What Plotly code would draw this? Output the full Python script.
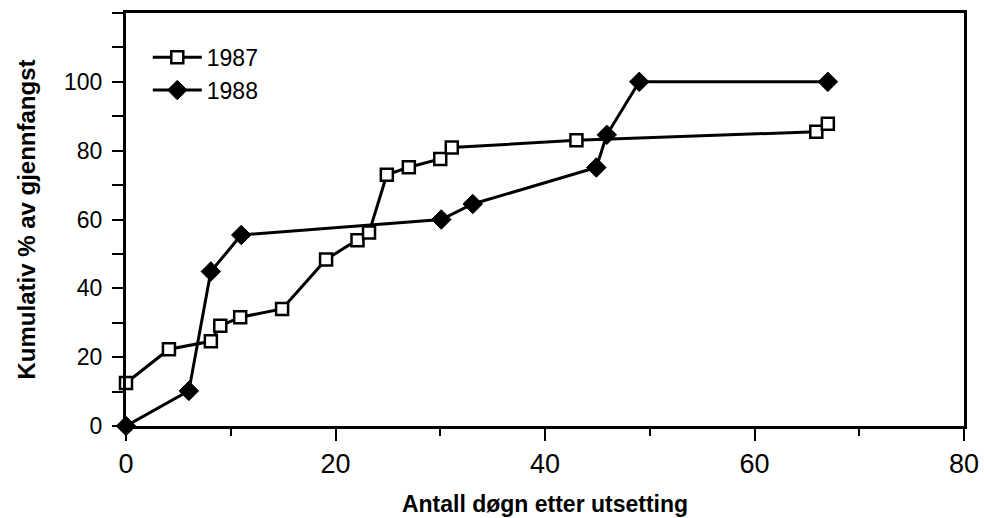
import plotly.graph_objects as go

# 1987 series (open squares)
days_1987 = [0, 4.1, 8.1, 9.0, 10.9, 14.9, 19.1, 22.1, 23.2, 24.9, 27.0, 30.0, 31.1, 43.0, 65.9, 67.0]
pct_1987 = [12.5, 22.3, 24.6, 29.1, 31.6, 34.0, 48.4, 54.0, 56.2, 73.0, 75.2, 77.6, 80.9, 83.0, 85.5, 87.8]

# 1988 series (filled diamonds)
days_1988 = [0, 6.0, 8.1, 11.0, 30.1, 33.1, 44.9, 45.9, 49.0, 67.0]
pct_1988 = [0, 10.2, 44.9, 55.5, 60.0, 64.5, 75.1, 84.6, 100.0, 100.0]

x_tickvals = [0, 20, 40, 60, 80]
y_tickvals = [0, 20, 40, 60, 80, 100]

FONT = "Liberation Sans, Arial, Helvetica, sans-serif"

fig = go.Figure()
fig.add_trace(go.Scatter(
    x=days_1987, y=pct_1987, name="1987", mode="lines+markers",
    line=dict(color="black", width=3),
    marker=dict(symbol="square", size=12, color="white", line=dict(color="black", width=2.5)),
    cliponaxis=False,
))
fig.add_trace(go.Scatter(
    x=days_1988, y=pct_1988, name="1988", mode="lines+markers",
    line=dict(color="black", width=3),
    marker=dict(symbol="diamond", size=15, color="black", line=dict(color="black", width=1)),
    cliponaxis=False,
))

fig.update_layout(
    width=984, height=518,
    margin=dict(l=126, r=20, t=13, b=92),
    paper_bgcolor="white", plot_bgcolor="white",
    font=dict(family=FONT, size=22, color="black"),
    showlegend=True,
    legend=dict(x=0.026, y=0.945, xanchor="left", yanchor="top",
                bgcolor="rgba(0,0,0,0)", font=dict(size=23, family=FONT),
                itemwidth=49),
    xaxis=dict(
        range=[0, 80], tickvals=x_tickvals, ticks="outside", ticklen=12, tickwidth=2,
        tickcolor="black", showgrid=False, zeroline=False, automargin=False,
        showline=True, linecolor="black", linewidth=3, mirror=True,
        minor=dict(dtick=10, ticks="outside", ticklen=7, tickwidth=2, tickcolor="black"),
        tickfont=dict(size=27, family=FONT), ticklabelstandoff=0,
        title=dict(text="<b>Antall døgn etter utsetting</b>", font=dict(size=23, family=FONT), standoff=18),
    ),
    yaxis=dict(
        range=[0, 120], tickvals=y_tickvals, ticks="outside", ticklen=11, tickwidth=2,
        tickcolor="black", showgrid=False, zeroline=False, automargin=False,
        showline=True, linecolor="black", linewidth=3, mirror=True,
        minor=dict(dtick=10, ticks="outside", ticklen=11, tickwidth=2, tickcolor="black"),
        tickfont=dict(size=23, family=FONT), ticklabelstandoff=5,
        title=dict(text="<b>Kumulativ % av gjennfangst</b>", font=dict(size=24, family=FONT), standoff=22),
    ),
)

fig.write_html("out.html", config={"displayModeBar": False},
               post_script="document.body.style.margin='0';")
